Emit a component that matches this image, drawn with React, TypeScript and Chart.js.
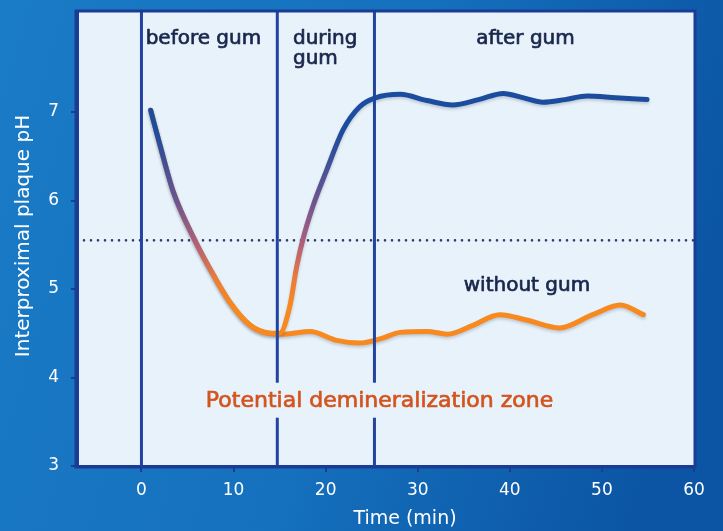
import React, { useEffect, useRef } from "react";
import { Chart, registerables } from "chart.js";

Chart.register(...registerables);

// ---- data ----
const withGumTime = [1.0, 2.0, 3.45, 5.8, 7.8, 9.6, 11.8, 13.9, 15.0, 16.1, 16.85, 17.5, 18.6, 20.1, 21.9, 23.7, 25.4, 28.1, 31.0, 33.8, 36.6, 39.3, 41.5, 43.6, 46.0, 48.4, 51.5, 54.9];
const withGumPH = [7.02, 6.63, 6.1, 5.55, 5.16, 4.85, 4.59, 4.5, 4.5, 4.8, 5.25, 5.55, 5.93, 6.34, 6.8, 7.06, 7.16, 7.2, 7.13, 7.08, 7.14, 7.21, 7.16, 7.11, 7.14, 7.18, 7.16, 7.14];

const withoutGumTime = [1.0, 2.0, 3.45, 5.8, 7.8, 9.6, 11.8, 13.9, 15.5, 18.3, 21.2, 23.7, 26.0, 28.1, 31.0, 33.2, 36.0, 38.9, 41.8, 45.4, 49.0, 52.0, 54.5];
const withoutGumPH = [7.02, 6.63, 6.1, 5.55, 5.16, 4.85, 4.59, 4.5, 4.49, 4.52, 4.42, 4.39, 4.44, 4.51, 4.52, 4.49, 4.59, 4.71, 4.65, 4.56, 4.71, 4.82, 4.71];

const phaseBoundaries = [0, 14.75, 25.3];
const criticalPH = 5.55;

const xMin = -7;
const xMax = 60;
const yMin = 3;
const yMax = 8.13;

const xTickStep = 10;
const yTickStep = 1;
const yTickTop = 7;

const phaseLabels = [
  { lines: ["before gum"], x: 6.73, y: 7.77, align: "center" },
  { lines: ["during", "gum"], x: 16.45, y: 7.77, align: "left" },
  { lines: ["after gum"], x: 41.7, y: 7.77, align: "center" },
  { lines: ["without gum"], x: 41.86, y: 4.98, align: "center" },
];
const zoneLabel = { text: "Potential demineralization zone", x: 25.85, y: 3.67 };

const xTitle = "Time (min)";
const yTitle = "Interproximal plaque pH";

// ---- styles ----
const FONT = "'DejaVu Sans', sans-serif";
const BLUE = "#1b4c9e";
const ORANGE = "#f7891f";
const LINE_BLUE = "#2243a0";
const PLOT_BG = "#e7f2fa";

export default function App() {
  const ref = useRef<HTMLCanvasElement>(null);

  useEffect(() => {
    document.body.style.margin = "0";
    const canvas = ref.current!;

    const gradientFor = (chart: any) => {
      const { chartArea, scales } = chart;
      if (!chartArea || !scales.y) return BLUE;
      const y = scales.y;
      const g = chart.ctx.createLinearGradient(0, y.getPixelForValue(6.8), 0, y.getPixelForValue(4.8));
      g.addColorStop(0, BLUE);
      g.addColorStop(0.4, "#6a5590");
      g.addColorStop(0.65, "#b0607a");
      g.addColorStop(0.85, "#ee7d35");
      g.addColorStop(1, ORANGE);
      return g;
    };

    const drawBoldText = (ctx: CanvasRenderingContext2D, t: string, x: number, y: number, color: string) => {
      ctx.fillStyle = color;
      ctx.strokeStyle = color;
      ctx.lineWidth = 0.7;
      ctx.lineJoin = "round";
      ctx.fillText(t, x, y);
      ctx.strokeText(t, x, y);
    };

    const decor = {
      id: "decor",
      beforeDraw(chart: any) {
        const { ctx, width, height, chartArea: a } = chart;
        ctx.save();
        const bg = ctx.createLinearGradient(0, 0, width, height * 0.4);
        bg.addColorStop(0, "#1a7bc6");
        bg.addColorStop(0.55, "#1570bd");
        bg.addColorStop(1, "#0b55a4");
        ctx.fillStyle = bg;
        ctx.fillRect(0, 0, width, height);
        ctx.fillStyle = PLOT_BG;
        ctx.fillRect(a.left, a.top, a.right - a.left, a.bottom - a.top);
        ctx.restore();
      },
      beforeDatasetDraw(chart: any, args: any) {
        const ctx = chart.ctx;
        ctx.save();
        if (args.index === 3 || args.index === 4) {
          ctx.shadowColor = "rgba(40,50,80,0.22)";
          ctx.shadowBlur = 3;
          ctx.shadowOffsetY = 2;
        }
      },
      afterDatasetDraw(chart: any) {
        chart.ctx.restore();
      },
      afterDatasetsDraw(chart: any) {
        const { ctx, scales } = chart;
        const xs = scales.x;
        const ys = scales.y;
        ctx.save();
        ctx.font = `20px ${FONT}`;
        ctx.textBaseline = "alphabetic";
        phaseLabels.forEach((l) => {
          const px = xs.getPixelForValue(l.x);
          const py = ys.getPixelForValue(l.y);
          ctx.textAlign = l.align as CanvasTextAlign;
          l.lines.forEach((t, i) => drawBoldText(ctx, t, px, py + i * 20, "#1a274d"));
        });
        ctx.font = `22px ${FONT}`;
        ctx.textAlign = "center";
        const zx = xs.getPixelForValue(zoneLabel.x);
        const zy = ys.getPixelForValue(zoneLabel.y);
        const w = ctx.measureText(zoneLabel.text).width;
        ctx.fillStyle = PLOT_BG;
        ctx.fillRect(zx - w / 2 - 4, zy - 24, w + 8, 35);
        drawBoldText(ctx, zoneLabel.text, zx, zy, "#d4541e");
        ctx.restore();
      },
      afterDraw(chart: any) {
        const { ctx, chartArea: a } = chart;
        ctx.save();
        ctx.strokeStyle = "#1a3c95";
        ctx.lineWidth = 3;
        ctx.strokeRect(a.left - 1, a.top - 1, a.right - a.left + 2, a.bottom - a.top + 2);
        ctx.fillStyle = "#ffffff";
        ctx.textAlign = "center";
        ctx.textBaseline = "middle";
        ctx.font = `19px ${FONT}`;
        ctx.fillText(xTitle, 405, 519);
        ctx.translate(24, 236);
        ctx.rotate(-Math.PI / 2);
        ctx.font = `20px ${FONT}`;
        ctx.fillText(yTitle, 0, 0);
        ctx.restore();
      },
    };

    const vLine = (x: number) => ({
      data: [
        { x, y: yMin },
        { x, y: yMax },
      ],
      borderColor: LINE_BLUE,
      borderWidth: 3,
      pointRadius: 0,
      tension: 0,
    });

    const chart = new Chart(canvas, {
      type: "line",
      data: {
        datasets: [
          ...phaseBoundaries.map(vLine),
          {
            label: "with gum",
            data: withGumTime.map((t, i) => ({ x: t, y: withGumPH[i] })),
            borderColor: (c: any) => gradientFor(c.chart),
            borderWidth: 5,
            pointRadius: 0,
            cubicInterpolationMode: "monotone",
            borderCapStyle: "round",
          },
          {
            label: "without gum",
            data: withoutGumTime.map((t, i) => ({ x: t, y: withoutGumPH[i] })),
            borderColor: ORANGE,
            borderWidth: 5,
            pointRadius: 0,
            cubicInterpolationMode: "monotone",
            borderCapStyle: "round",
          },
          {
            label: "critical pH",
            data: [
              { x: xMin, y: criticalPH },
              { x: xMax, y: criticalPH },
            ],
            borderColor: "#2f3a68",
            borderWidth: 2.6,
            borderDash: [0, 7],
            borderCapStyle: "round",
            pointRadius: 0,
          },
        ] as any,
      },
      plugins: [decor],
      options: {
        animation: false,
        responsive: false,
        events: [],
        layout: { padding: { top: 12, right: 29, left: 0, bottom: 0 } },
        plugins: { legend: { display: false }, tooltip: { enabled: false } },
        scales: {
          x: {
            type: "linear",
            min: xMin,
            max: xMax,
            afterFit: (s: any) => {
              s.height = 65;
              s.paddingLeft = 0;
              s.paddingRight = 0;
            },
            afterBuildTicks: (s: any) => {
              s.ticks = s.ticks.filter((t: any) => Math.abs(t.value % xTickStep) < 1e-9);
            },
            ticks: {
              stepSize: xTickStep,
              includeBounds: false,
              color: "#ffffff",
              font: { family: FONT, size: 17 },
              padding: 8,
              maxRotation: 0,
            },
            grid: { drawOnChartArea: false, drawTicks: true, tickLength: 6, color: "#1a3c95", lineWidth: 2 },
            border: { display: true, color: "#1a3c95", width: 3 },
          },
          y: {
            type: "linear",
            min: yMin,
            max: yMax,
            afterFit: (s: any) => {
              s.width = 77;
              s.paddingTop = 0;
              s.paddingBottom = 0;
            },
            afterBuildTicks: (s: any) => {
              s.ticks = s.ticks.filter((t: any) => Number.isInteger(t.value) && t.value <= yTickTop);
            },
            ticks: {
              stepSize: yTickStep,
              includeBounds: false,
              color: "#ffffff",
              font: { family: FONT, size: 17 },
              padding: 12,
            },
            grid: { drawOnChartArea: false, drawTicks: true, tickLength: 6, color: "#1a3c95", lineWidth: 2 },
            border: { display: true, color: "#1a3c95", width: 3 },
          },
        },
      } as any,
    });

    return () => chart.destroy();
  }, []);

  return <canvas ref={ref} width={723} height={531} style={{ display: "block" }} />;
}
